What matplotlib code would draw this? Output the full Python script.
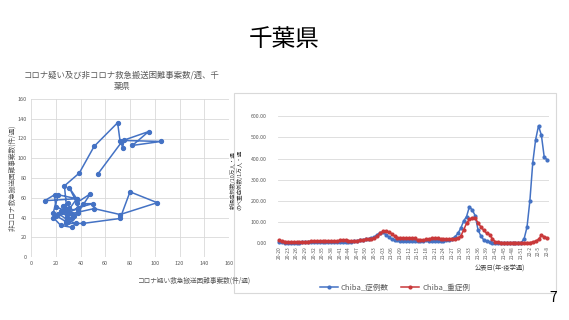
import matplotlib

matplotlib.use("Agg")
import matplotlib.pyplot as plt
from matplotlib.patches import Rectangle

plt.rcParams["font.family"] = ["Noto Sans CJK JP", "DejaVu Sans"]

# left chart: weekly path (corona-suspected vs non-corona difficult transports)
susp_cases = [18, 24, 33, 36, 29, 22, 25, 30, 26, 29,
              38, 42, 50, 38, 31, 20, 19, 11, 37, 22,
              18, 20, 28, 33, 38, 48, 37, 31, 37, 30,
              35, 28, 42, 72, 80, 102, 72, 51, 33, 29,
              24, 31, 28, 30, 27, 39, 51, 70, 72, 95,
              82, 105, 75, 74, 73, 54]
non_corona_cases = [40, 32, 30, 34, 38, 44, 46, 55, 52, 48,
                    48, 54, 54, 50, 45, 51, 63, 57, 59, 63,
                    45, 42, 36, 40, 45, 64, 55, 70, 59, 47,
                    42, 34, 34, 39, 66, 55, 43, 49, 44, 41,
                    47, 50, 47, 35, 72, 85, 112, 136, 117, 127,
                    113, 117, 118, 110, 116, 84]

# right chart: epi weeks 2020-20 .. 2022-8
weeks = ([f"20-{w}" for w in range(20, 54)]
         + [f"21-{w:02d}" for w in range(1, 53)]
         + [f"22-{w}" for w in range(1, 9)])
cases = [5, 3, 2, 1, 1, 1, 1, 2, 3, 4,
         5, 6, 6, 5, 4, 3, 3, 4, 5, 5,
         4, 4, 5, 6, 6, 7, 8, 10, 12, 14,
         17, 20, 22, 28, 40, 47, 50, 40, 28, 18,
         13, 12, 11, 10, 10, 9, 9, 8, 9, 10,
         11, 12, 11, 10, 9, 9, 10, 11, 12, 15,
         20, 30, 45, 70, 104, 125, 172, 156, 130, 62,
         33, 14, 8, 4, 2, 1, 1, 1, 1, 1,
         1, 1, 1, 1, 2, 20, 75, 200, 380, 490,
         555, 510, 405, 395]
severe = [12, 9, 7, 6, 5, 4, 4, 4, 5, 6,
          7, 8, 9, 10, 10, 10, 9, 8, 8, 9,
          10, 12, 13, 12, 11, 10, 10, 11, 13, 15,
          17, 19, 21, 24, 32, 45, 55, 57, 52, 44,
          32, 26, 25, 25, 24, 23, 23, 22, 15, 13,
          13, 18, 20, 22, 24, 22, 20, 20, 18, 18,
          18, 20, 25, 32, 62, 93, 112, 120, 118, 96,
          76, 60, 46, 40, 20, 5, 3, 2, 2, 2,
          2, 2, 2, 2, 2, 2, 2, 2, 5, 9,
          17, 36, 30, 24]

BLUE = "#4472C4"
RED = "#C9383A"
GRAY = "#595959"
W, H = 569, 320

fig = plt.figure(figsize=(W / 100, H / 100), dpi=100)


def fx(px):
    return px / W


def fy(py):
    return 1 - py / H


fig.text(0.5, fy(40), "千葉県", ha="center", va="center", fontsize=17, color="black")
fig.text(fx(553), fy(298), "7", ha="center", va="center", fontsize=10, color="black")

# ---- left chart ----
ax1 = fig.add_axes([fx(31), fy(257), fx(229 - 31), (257 - 99) / H])
ax1.plot(susp_cases, non_corona_cases, color=BLUE, linewidth=1.1, marker="o",
         markersize=2.8, zorder=3)
ax1.set_xlim(0, 160)
ax1.set_ylim(0, 160)
ax1.set_xticks(range(0, 161, 20))
ax1.set_yticks(range(0, 161, 20))
ax1.grid(True, color="#D9D9D9", linewidth=0.6)
for s in ax1.spines.values():
    s.set_visible(False)
ax1.tick_params(length=0, labelsize=4, labelcolor=GRAY, pad=3)
fig.text(fx(122), fy(81), "コロナ疑い及び非コロナ救急搬送困難事案数/週、千\n葉県",
         ha="center", va="center", fontsize=6, color=GRAY, linespacing=1.3)
fig.text(fx(12), fy(178), "非コロナ救急搬送困難事案数(件/週)", rotation=90,
         ha="center", va="center", fontsize=4.8, color=GRAY)
fig.text(fx(138), fy(281), "コロナ疑い救急搬送困難事案数(件/週)",
         ha="left", va="center", fontsize=4.8, color=GRAY)

# ---- right chart panel ----
panel = Rectangle((fx(234), fy(293)), fx(556 - 234), (293 - 93) / H,
                  transform=fig.transFigure, facecolor="white",
                  edgecolor="#D9D9D9", linewidth=0.8, zorder=2)
fig.patches.append(panel)

ax2 = fig.add_axes([fx(277.9), fy(243), fx(270.7), (243 - 116.3) / H])
ax2.set_zorder(3)
x = list(range(len(weeks)))
ax2.plot(x, cases, color=BLUE, linewidth=1.1, marker="o", markersize=2.0,
         label="Chiba_症例数", clip_on=False, zorder=3)
ax2.plot(x, severe, color=RED, linewidth=1.1, marker="o", markersize=2.0,
         label="Chiba_重症例", clip_on=False, zorder=4)
ax2.set_xlim(-0.5, len(weeks) - 0.5)
ax2.set_ylim(0, 600)
ax2.set_yticks(range(0, 601, 100))
ax2.set_yticklabels([f"{v:.2f}" for v in range(0, 601, 100)])
ax2.set_xticks(x[::3])
ax2.set_xticklabels(weeks[::3], rotation=90)
ax2.grid(True, axis="y", color="#D9D9D9", linewidth=0.6)
for s in ax2.spines.values():
    s.set_visible(False)
ax2.tick_params(axis="y", length=0, labelsize=3.8, labelcolor=GRAY, pad=8)
ax2.tick_params(axis="x", length=0, labelsize=3.5, labelcolor=GRAY, pad=2)
ax2.set_ylabel("新規症例数/10万人・週\nのべ重症例数/1万人・週", fontsize=4,
               color="#404040", labelpad=6, linespacing=1.2)
fig.text(fx(500), fy(269), "公表日(年-疫学週)", ha="center", va="center",
         fontsize=4.5, color="#404040", zorder=5)
ax2.legend(loc="center", bbox_to_anchor=(fx(395), fy(288)),
           bbox_transform=fig.transFigure, ncol=2, frameon=False,
           fontsize=5.5, handlelength=2.4, columnspacing=1.6,
           handletextpad=0.4, markerscale=1.0)
for t in ax2.get_legend().get_texts():
    t.set_color(GRAY)

fig.savefig("out.png", dpi=100)
plt.close(fig)
